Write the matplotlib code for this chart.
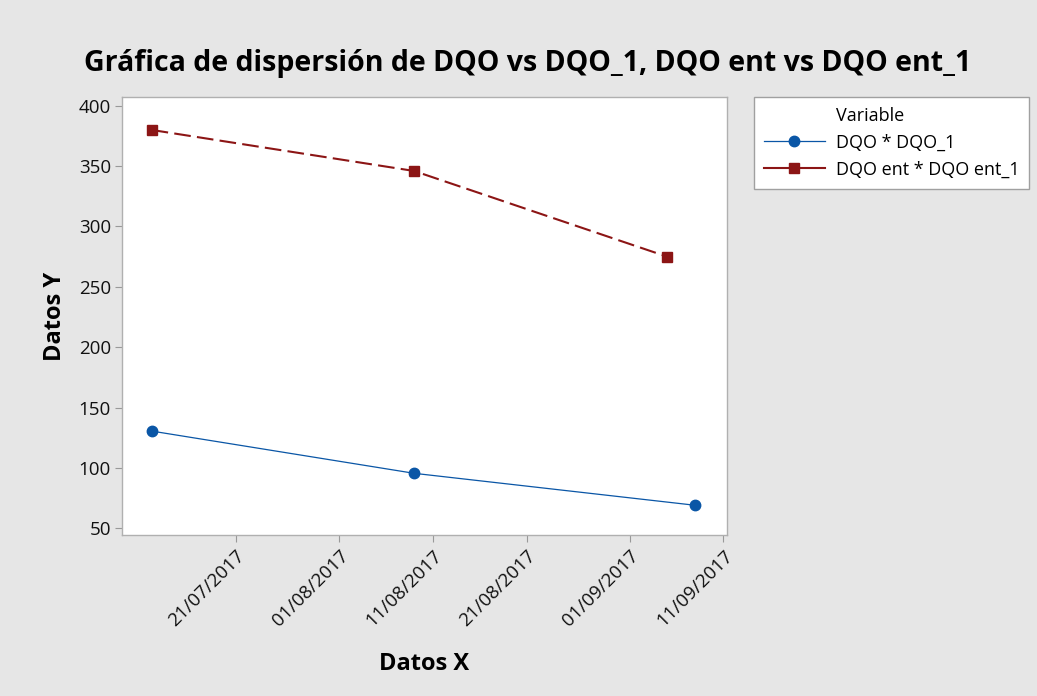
import matplotlib
matplotlib.use("Agg")
import matplotlib.pyplot as plt
from matplotlib.lines import Line2D
import datetime as dt

# Data
dqo_dates = ["2017-07-12", "2017-08-09", "2017-09-08"]
dqo_values = [130.5, 95.5, 69]
dqo_ent_dates = ["2017-07-12", "2017-08-09", "2017-09-05"]
dqo_ent_values = [380, 346, 275]
tick_dates = ["2017-07-21", "2017-08-01", "2017-08-11", "2017-08-21", "2017-09-01", "2017-09-11"]
tick_labels = ["21/07/2017", "01/08/2017", "11/08/2017", "21/08/2017", "01/09/2017", "11/09/2017"]
y_ticks = [50, 100, 150, 200, 250, 300, 350, 400]

def to_dt(lst):
    return [dt.datetime.strptime(s, "%Y-%m-%d") for s in lst]

plt.rcParams['font.family'] = ['Open Sans', 'DejaVu Sans']

bg = "#e6e6e6"
fig = plt.figure(figsize=(10.37, 6.96), dpi=100, facecolor=bg)
ax = fig.add_axes([0.1176, 0.231, 0.583, 0.630])
ax.set_facecolor("white")

blue = "#0a56a6"
red = "#8c1515"
l1, = ax.plot(to_dt(dqo_dates), dqo_values, color=blue, lw=0.9, marker='o', ms=7.5,
              label="DQO * DQO_1")
l2, = ax.plot(to_dt(dqo_ent_dates), dqo_ent_values, color=red, lw=1.5, ls=(0, (8, 3)),
              marker='s', ms=7.5, label="DQO ent * DQO ent_1")

ax.set_xlim(dt.datetime(2017, 7, 8, 20), dt.datetime(2017, 9, 11, 8))
ax.set_ylim(44.2, 407.5)
ax.set_yticks(y_ticks)
ax.set_xticks(to_dt(tick_dates))
ax.set_xticklabels(tick_labels, rotation=45, ha='right', rotation_mode='anchor')
for lab in ax.get_xticklabels() + ax.get_yticklabels():
    lab.set_fontsize(13.5)
    lab.set_color("#111111")
ax.tick_params(axis='both', color="#999999", length=5, width=0.8, pad=3)
for s in ax.spines.values():
    s.set_color("#b0b0b0")
    s.set_linewidth(1)

ax.set_xlabel("Datos X", fontsize=17, fontweight='bold', labelpad=16)
ax.set_ylabel("Datos Y", fontsize=17, fontweight='bold', labelpad=8)
fig.suptitle("Gráfica de dispersión de DQO vs DQO_1, DQO ent vs DQO ent_1",
             fontsize=20.5, fontweight='bold', x=0.509, y=0.93)

blank = Line2D([], [], color='none', marker='none')
l2h = Line2D([], [], color=red, lw=1.5, marker='s', ms=7.5)
leg = ax.legend([blank, l1, l2h], ["Variable", "DQO * DQO_1", "DQO ent * DQO ent_1"],
                loc='upper left', bbox_to_anchor=(1.045, 1.0),
                fontsize=13, frameon=True, fancybox=False, framealpha=1,
                borderpad=0.55, handlelength=3.4, handletextpad=0.6,
                labelspacing=0.5, borderaxespad=0)
leg.get_frame().set_edgecolor("#a0a0a0")
leg.get_frame().set_facecolor("white")
leg.get_frame().set_linewidth(1)

fig.savefig("out.png", dpi=100, facecolor=bg)
